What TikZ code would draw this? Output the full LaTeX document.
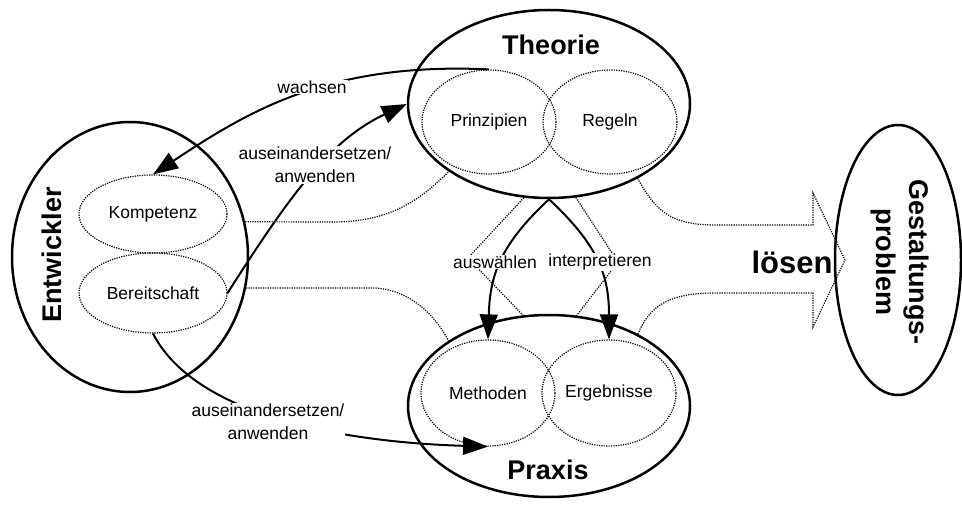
\documentclass[tikz,border=0pt]{standalone}
\usepackage{fontspec}
\setmainfont{Liberation Sans}
\usepackage{tikz}
\usetikzlibrary{
    shapes.geometric,
    arrows.meta,
    calc,
    positioning
}
\tikzset{bigell/.style={ellipse, draw=black, line width=2.5pt, inner sep=0pt}}
\tikzset{dotell/.style={ellipse, draw=black, dash pattern=on 1.2pt off 1.2pt, line width=1.2pt, inner sep=0pt, minimum width=134pt, minimum height=104pt, font=\fontsize{17.5}{20}\selectfont}}
\tikzset{dotln/.style={dash pattern=on 1.2pt off 1.2pt, line width=1.2pt}}
\tikzset{lbl/.style={fill=white, inner sep=1pt, align=center, font=\fontsize{17.5}{23}\selectfont}}
\tikzset{ttl/.style={align=center, font=\fontsize{27}{33}\selectfont\bfseries}}
\tikzset{arr/.style={line width=2pt, -{Triangle[length=25pt, width=18pt]}}}

\begin{document}
\begin{tikzpicture}[x=1pt, y=-1pt]
                        \useasboundingbox (0, 0) rectangle (962, 505);

                        \node[bigell, minimum width=236pt, minimum height=270pt] (entw) at (130, 257) {};
                        \node[ttl, rotate=90] (entwt) at (52, 255) {Entwickler};
                        \node[dotell, minimum width=148pt, minimum height=78pt] (komp) at (153, 214) {Kompetenz};
                        \node[dotell, minimum width=148pt, minimum height=80pt] (bere) at (153, 293) {Bereitschaft};

                        \node[bigell, minimum width=282pt, minimum height=188pt] (theo) at (549, 104) {};
                        \node[ttl] (theot) at (551, 45) {Theorie};
                        \node[dotell] (prin) at (489, 122) {Prinzipien};
                        \node[dotell] (rege) at (610, 122) {Regeln};

                        \node[bigell, minimum width=282pt, minimum height=182pt] (prax) at (549, 406) {};
                        \node[ttl] (praxt) at (548, 470) {Praxis};
                        \node[dotell, minimum height=106pt] (meth) at (488, 393) {Methoden};
                        \node[dotell, minimum height=106pt] (erge) at (609, 393) {Ergebnisse};

                        \node[bigell, minimum width=126pt, minimum height=270pt] (gest) at (898, 260) {};
                        \node[ttl, rotate=-90] (gestt) at (900, 262) {Gestaltungs-\\problem};

                        \coordinate (bodytop) at (813, 225);
                        \coordinate (headtop) at (813, 193);
                        \coordinate (tip) at (845, 260);
                        \coordinate (headbot) at (813, 327);
                        \coordinate (bodybot) at (813, 293);

                        \draw[dotln] (entw.17) -- (333, 222) .. controls (390, 222) and (420, 200) .. (theo.214);
                        \draw[dotln] (entw.-15) -- (375, 288) .. controls (410, 290) and (435, 315) .. (prax.147);
                        \draw[dotln] (theo.255) -- (468, 258) -- (prax.106);
                        \draw[dotln] (theo.286) -- (618, 262) -- (prax.73);
                        \draw[dotln] (theo.320) .. controls (655, 210) and (670, 225) .. (715, 225) -- (bodytop)
                        -- (headtop) -- (tip) -- (headbot) -- (bodybot) -- (715, 293) .. controls (670, 293) and (650, 305) .. (prax.39);

                        \draw[arr] (prin.north) .. controls (330, 62) and (250, 110) .. (komp.north);
                        \draw[arr] (bere.east) .. controls (290, 195) and (330, 140) .. (theo.west);
                        \draw[arr] (bere.south) .. controls (195, 415) and (340, 442) .. (meth.south);
                        \draw[arr] (theo.south) .. controls (500, 245) and (490, 275) .. (meth.north);
                        \draw[arr] (theo.south) .. controls (598, 245) and (609, 275) .. (erge.north);

                        \node[lbl] (wach) at (312, 87) {wachsen};
                        \node[lbl] (ausa) at (315, 165) {auseinandersetzen/\\anwenden};
                        \node[lbl] (ausb) at (268, 422) {auseinandersetzen/\\anwenden};
                        \node[lbl] (ausw) at (495, 262) {auswählen};
                        \node[lbl] (intp) at (600, 262) {interpretieren};
                        \node[font=\fontsize{31}{31}\selectfont\bfseries] (loes) at (792, 262) {lösen};
                    \end{tikzpicture}
\end{document}
